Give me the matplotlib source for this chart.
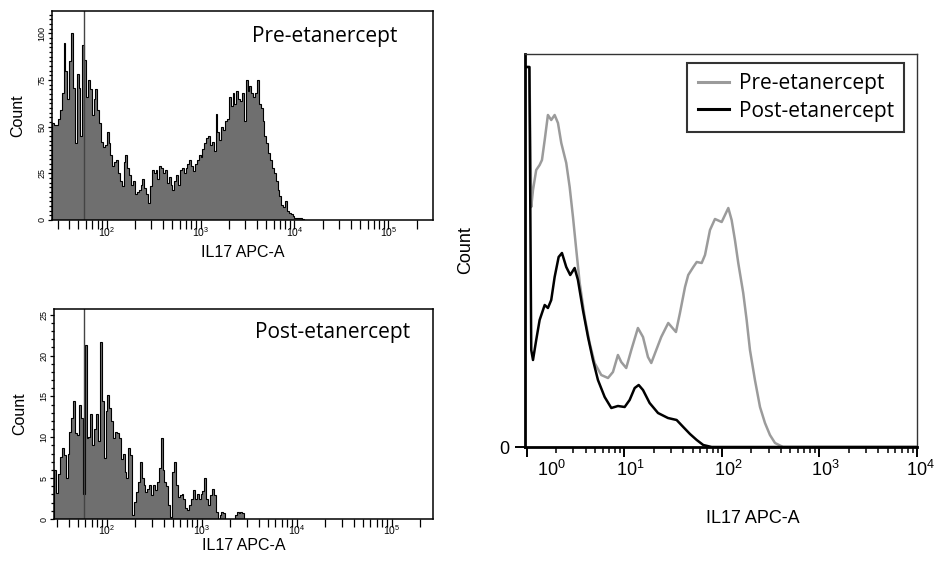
import numpy as np
import matplotlib
matplotlib.use("Agg")
import matplotlib.pyplot as plt
import matplotlib.transforms as mtransforms
from matplotlib.ticker import LogLocator, FixedLocator, MultipleLocator, NullFormatter

plt.rcParams['font.family'] = ['Liberation Sans', 'DejaVu Sans']
plt.rcParams['mathtext.fontset'] = 'custom'
plt.rcParams['mathtext.rm'] = 'Liberation Sans'
plt.rcParams['mathtext.it'] = 'Liberation Sans:italic'
plt.rcParams['mathtext.bf'] = 'Liberation Sans:bold'

# ---- left histograms: counts per channel (channels are 1/50 decade wide)
CH_PER_DECADE = 50
pre_start = 1.42          # log10 of first channel edge
pre_counts = [52, 51, 51, 54, 59, 68, 95, 80, 65, 85,
              100, 71, 41, 78, 71, 45, 94, 86, 66, 75,
              70, 56, 65, 70, 59, 52, 42, 39, 40, 47,
              41, 35, 29, 31, 32, 25, 21, 18, 31, 35,
              28, 24, 19, 21, 14, 15, 16, 19, 22, 17,
              14, 9, 18, 27, 25, 27, 22, 29, 28, 25,
              27, 20, 23, 19, 16, 21, 24, 19, 27, 28,
              25, 28, 30, 32, 29, 26, 30, 32, 35, 34,
              38, 41, 44, 45, 40, 42, 37, 57, 47, 43,
              50, 48, 53, 54, 66, 61, 68, 62, 69, 65,
              64, 68, 53, 75, 69, 72, 68, 66, 68, 75,
              62, 60, 53, 45, 41, 36, 32, 28, 25, 21,
              16, 13, 8, 7, 10, 5, 4, 3, 2, 1,
              1, 1, 1, 0.5, 0]
post_start = 1.45
post_counts = [6, 3.2, 5.5, 7.6, 8.7, 7.8, 5.0, 8.0, 10.7, 12.3,
               14.4, 10.5, 10.3, 14, 12.3, 3, 21.3, 9.9, 10, 12.8,
               9.1, 11, 12.8, 9.5, 21.7, 14.4, 7.5, 13.2, 15.2, 13.6,
               12, 9.9, 10.7, 10.5, 9.9, 7.4, 8.0, 5.8, 5.0, 8.7,
               7.8, 0.5, 2.1, 3.3, 4.5, 7.0, 5.0, 4.1, 3.3, 3.7,
               4.1, 2.9, 4.1, 3.5, 4.5, 6.2, 9.9, 6, 4.5, 4.0,
               1.7, 0.3, 5.8, 7.0, 4.1, 2.7, 2.9, 3.0, 2.5, 1.3,
               1.1, 1.7, 2.5, 3.5, 2.5, 3.1, 2.5, 3.1, 3.4, 5.0,
               2.5, 1.7, 2.9, 3.7, 2.9, 0.9, 0, 0.5, 0.9, 0.7,
               0, 0, 0, 0, 0, 0.5, 0.9, 0.7, 0.9, 0.7,
               0]
marker_x = 58             # gate marker line on both histograms

# ---- right overlay (smoothed), x as log10 of IL17 APC-A
pre_log = [0.0, 0.025, 0.044, 0.062, 0.095, 0.130, 0.154, 0.182, 0.215, 0.249,
           0.284, 0.318, 0.352, 0.403, 0.438, 0.472, 0.506, 0.541, 0.592, 0.643,
           0.694, 0.762, 0.831, 0.882, 0.933, 0.967, 1.018, 1.070, 1.138, 1.190,
           1.241, 1.275, 1.326, 1.377, 1.449, 1.484, 1.528, 1.569, 1.621, 1.654,
           1.706, 1.741, 1.792, 1.826, 1.877, 1.928, 1.997, 2.031, 2.065, 2.099,
           2.133, 2.167, 2.218, 2.253, 2.287, 2.338, 2.390, 2.441, 2.492, 2.544,
           2.626, 4.0]
pre_y = [380, 380, 240, 257, 277, 282, 287, 307, 332, 327,
         332, 324, 304, 284, 260, 230, 197, 164, 130, 104,
         84, 72, 69, 75, 92, 85, 79, 97, 119, 110,
         90, 84, 97, 110, 124, 120, 115, 134, 160, 172,
         180, 185, 184, 192, 217, 228, 225, 232, 239, 227,
         207, 184, 154, 127, 97, 67, 40, 24, 12, 4,
         0, 0]
post_log = [0.0, 0.025, 0.044, 0.062, 0.095, 0.130, 0.182, 0.215, 0.249, 0.284,
            0.325, 0.359, 0.403, 0.444, 0.489, 0.523, 0.574, 0.626, 0.677, 0.728,
            0.797, 0.865, 0.933, 1.002, 1.053, 1.105, 1.146, 1.190, 1.258, 1.344,
            1.446, 1.535, 1.603, 1.672, 1.741, 1.808, 1.894, 4.0]
post_y = [380, 380, 97, 87, 107, 127, 142, 139, 147, 170,
          190, 194, 180, 172, 179, 167, 137, 110, 87, 67,
          50, 39, 41, 40, 47, 59, 62, 57, 44, 34,
          29, 27, 20, 13, 7, 2, 0, 0]

labels = ['Pre-etanercept', 'Post-etanercept']
xlabel = 'IL17 APC-A'
FILL = '#6f6f6f'
GRAY = '#9b9b9b'
CAL = 'Open Sans'

W, H = 935, 568
fig = plt.figure(figsize=(W / 100, H / 100), dpi=100)


def box(l, t, r, b):
    return [l / W, 1 - b / H, (r - l) / W, (b - t) / H]


def hist_panel(rect, start, counts, xlim, ylim, ymajor, yminor, name,
               name_xy, ylab_x, xlab_y, xtick_len):
    ax = fig.add_axes(rect)
    edges = 10 ** (start + np.arange(len(counts) + 1) / CH_PER_DECADE)
    ax.stairs(counts, edges, fill=True, color=FILL, lw=0)
    ax.stairs(counts, edges, color='black', lw=0.8)
    ax.axvline(marker_x, color='#444444', lw=1.0)
    ax.set_xscale('log')
    ax.set_xlim(10 ** xlim[0], 10 ** xlim[1])
    ax.set_ylim(*ylim)
    ax.xaxis.set_major_locator(FixedLocator([1e2, 1e3, 1e4, 1e5]))
    ax.xaxis.set_minor_locator(LogLocator(base=10, subs=np.arange(2, 10)))
    ax.xaxis.set_minor_formatter(NullFormatter())
    ax.set_xticklabels(['$10^{2}$', '$10^{3}$', '$10^{4}$', '$10^{5}$'])
    ax.yaxis.set_major_locator(MultipleLocator(ymajor))
    ax.yaxis.set_minor_locator(MultipleLocator(yminor))
    ax.tick_params(axis='x', which='major', length=xtick_len, width=0.9,
                   labelsize=7.5, pad=-2.5)
    ax.tick_params(axis='x', which='minor', length=xtick_len, width=0.9)
    ax.tick_params(axis='y', which='major', length=3, width=0.9, labelsize=6.5,
                   pad=1, labelrotation=90)
    ax.tick_params(axis='y', which='minor', length=2.5, width=0.9)
    for lab in ax.get_yticklabels():
        lab.set_va('center')
    for s in ax.spines.values():
        s.set_linewidth(1.1)
    ax.set_ylabel('Count', fontsize=11.5)
    ax.yaxis.set_label_coords(ylab_x, 0.5)
    ax.set_xlabel(xlabel, fontsize=11.5)
    ax.xaxis.set_label_coords(0.5, xlab_y)
    ax.text(name_xy[0], name_xy[1], name, transform=ax.transAxes,
            fontfamily=CAL, fontsize=15, va='baseline', ha='left')
    return ax


hist_panel(box(52, 11, 433, 220), pre_start, pre_counts, (1.4175, 5.475),
           (0, 112), 25, 2.5, labels[0], (0.525, 0.852), -0.071, -0.12, 6.5)
hist_panel(box(54.3, 309, 433.3, 519), post_start, post_counts, (1.45, 5.44),
           (0, 25.7), 5, 1, labels[1], (0.53, 0.862), -0.072, -0.092, 5.5)

# ---- right overlay panel
ax = fig.add_axes(box(525, 54, 917, 447))
ax.plot(10 ** np.array(pre_log), pre_y, color=GRAY, lw=1.8,
        solid_joinstyle='round', label=labels[0])
ax.plot(10 ** np.array(post_log), post_y, color='black', lw=1.8,
        solid_joinstyle='round', label=labels[1])
ax.set_xscale('log')
ax.set_xlim(10 ** -0.02, 1e4)
ax.set_ylim(0, 393)
ax.xaxis.set_major_locator(FixedLocator([1, 10, 100, 1000, 10000]))
ax.xaxis.set_minor_locator(LogLocator(base=10, subs=np.arange(2, 10)))
ax.xaxis.set_minor_formatter(NullFormatter())
ax.set_xticklabels(['$10^{0}$', '$10^{1}$', '$10^{2}$', '$10^{3}$', '$10^{4}$'])
ax.set_yticks([0])
ax.set_yticklabels(['0'])
ax.tick_params(axis='x', which='major', length=7, width=1.4, labelsize=13, pad=2)
ax.tick_params(axis='x', which='minor', length=4.3, width=1.1)
ax.tick_params(axis='y', length=7, width=1.4, labelsize=13, pad=4)
for i, lab in enumerate(ax.get_xticklabels()):
    dx = 24 if i == 0 else (3 if i == 4 else 6)
    lab.set_transform(lab.get_transform() +
                      mtransforms.ScaledTranslation(dx / 100, 0, fig.dpi_scale_trans))
ax.spines['left'].set_linewidth(2.0)
ax.spines['bottom'].set_linewidth(2.0)
for s in ('top', 'right'):
    ax.spines[s].set_linewidth(1.0)
    ax.spines[s].set_color('#333333')
ax.set_ylabel('Count', fontsize=13)
ax.yaxis.set_label_coords(-0.13, 0.5)
ax.set_xlabel(xlabel, fontsize=13)
ax.xaxis.set_label_coords(0.58, -0.16)
leg = ax.legend(loc='upper right', bbox_to_anchor=(0.967, 0.977), borderaxespad=0,
                prop={'family': CAL, 'size': 15}, frameon=True, fancybox=False,
                handlelength=1.5, handletextpad=0.45, labelspacing=0.3,
                borderpad=0.5)
leg.get_frame().set_edgecolor('black')
leg.get_frame().set_linewidth(1.5)
for line in leg.get_lines():
    line.set_linewidth(2.2)

fig.savefig('out.png', dpi=100)
